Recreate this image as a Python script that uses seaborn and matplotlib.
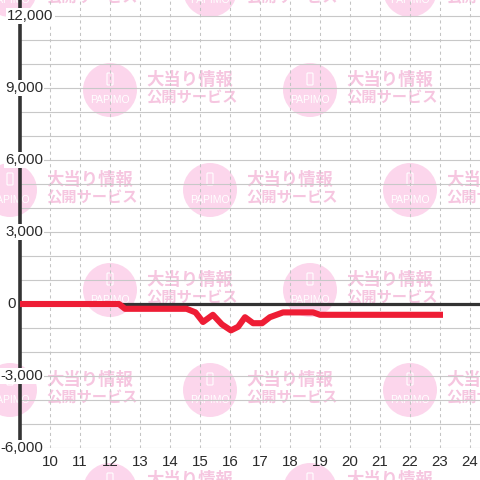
import matplotlib
matplotlib.use("Agg")
import matplotlib.pyplot as plt
import matplotlib.patches as mpatches
import matplotlib.transforms as mtransforms
import seaborn as sns
import pandas as pd

# data
hours = [9.0, 12.3, 12.5, 14.55, 14.85, 15.1, 15.43, 15.73, 16.03, 16.27,
         16.5, 16.77, 17.07, 17.33, 17.77, 18.77, 19.0, 23.1]
values = [0, 0, -200, -200, -350, -750, -450, -850, -1100, -950,
          -550, -800, -800, -550, -350, -350, -450, -450]
x_ticks = list(range(10, 25))
y_ticks = [12000, 9000, 6000, 3000, 0, -3000, -6000]
y_tick_labels = ["12,000", "9,000", "6,000", "3,000", "0", "-3,000", "-6,000"]

sns.set_style("white")
plt.rcParams['font.family'] = ['Liberation Sans', 'DejaVu Sans']

W = 480
fig = plt.figure(figsize=(4.8, 4.8), dpi=100)
fig.patch.set_facecolor("white")
ax = fig.add_axes([20 / W, 32 / W, 460 / W, 448 / W])
ax.set_facecolor("none")

# watermark pattern behind the chart
pink_circle = "#fcd6ec"
pink_text = "#f6c6e0"
for cy in [-10, 90, 190, 290, 390, 490]:
    row = (cy + 10) // 100
    xs = [10, 210, 410] if row % 2 == 0 else [110, 310]
    for cx in xs:
        fx, fy = cx / W, 1 - cy / W
        fig.patches.append(mpatches.Circle((fx, fy), 27 / W, transform=fig.transFigure,
                                           facecolor=pink_circle, edgecolor="none", zorder=-2))
        fig.patches.append(mpatches.FancyBboxPatch((fx - 3 / W, fy + 5 / W), 6 / W, 12 / W,
                                                   boxstyle="round,pad=0,rounding_size=0.002",
                                                   transform=fig.transFigure, facecolor="none",
                                                   edgecolor="white", lw=0.8, zorder=-1))
        fig.text(fx, fy - 10 / W, "PAPIMO", color="white", fontsize=7.5,
                 ha="center", va="center", zorder=-1)
        fig.text(fx + 36 / W, fy + 10 / W, "大当り情報", color=pink_text, fontsize=12.5,
                 fontweight="bold", family=["Noto Sans CJK JP", "DejaVu Sans"],
                 ha="left", va="center", zorder=-1)
        fig.text(fx + 36 / W, fy - 7 / W, "公開サービス", color=pink_text, fontsize=11,
                 fontweight="bold", family=["Noto Sans CJK JP", "DejaVu Sans"],
                 ha="left", va="center", zorder=-1)

# grid
for v in range(-6000, 13000, 1000):
    ax.axhline(v, color="#c8c8c8", lw=0.8, zorder=1)
for h in x_ticks:
    ax.axvline(h, color="#c4c4c4", lw=0.75, ls=(0, (3, 3)), zorder=1)
ax.axhline(0, color="#333333", lw=2.3, zorder=2)

df = pd.DataFrame({"hour": hours, "value": values})
sns.lineplot(data=df, x="hour", y="value", ax=ax, color="#ee1d35", lw=4.4,
             solid_capstyle="butt", solid_joinstyle="round", zorder=4)

ax.set_xlim(9, 9 + 460 / 30)
ax.set_ylim(-6000, 12000 + 16 / 24 * 1000)
ax.set_xlabel("")
ax.set_ylabel("")

for s in ["top", "right", "bottom"]:
    ax.spines[s].set_visible(False)
ax.spines["left"].set_color("#333333")
ax.spines["left"].set_linewidth(2.6)
ax.spines["left"].set_bounds(-6000, 12000 + 16 / 24 * 1000)

ax.set_xticks(x_ticks)
ax.set_xticklabels([str(h) for h in x_ticks], fontsize=10.8, color="#2a2a2a")
ax.tick_params(axis="x", length=0, pad=5)
ax.set_yticks([])

# y labels sit over the spine with a white box
trans = mtransforms.blended_transform_factory(fig.transFigure, ax.transData)
for v, lab in zip(y_ticks, y_tick_labels):
    if lab == "12,000":
        x, ha = 7, "left"
    elif lab == "0":
        x, ha = 16, "right"
    else:
        x, ha = 43, "right"
    ax.text(x / W, v, lab, transform=trans, ha=ha, va="center", fontsize=10.8,
            color="#2a2a2a", clip_on=False, zorder=6,
            bbox=dict(facecolor="white", edgecolor="none", pad=1.0))

fig.savefig("out.png", dpi=100)
